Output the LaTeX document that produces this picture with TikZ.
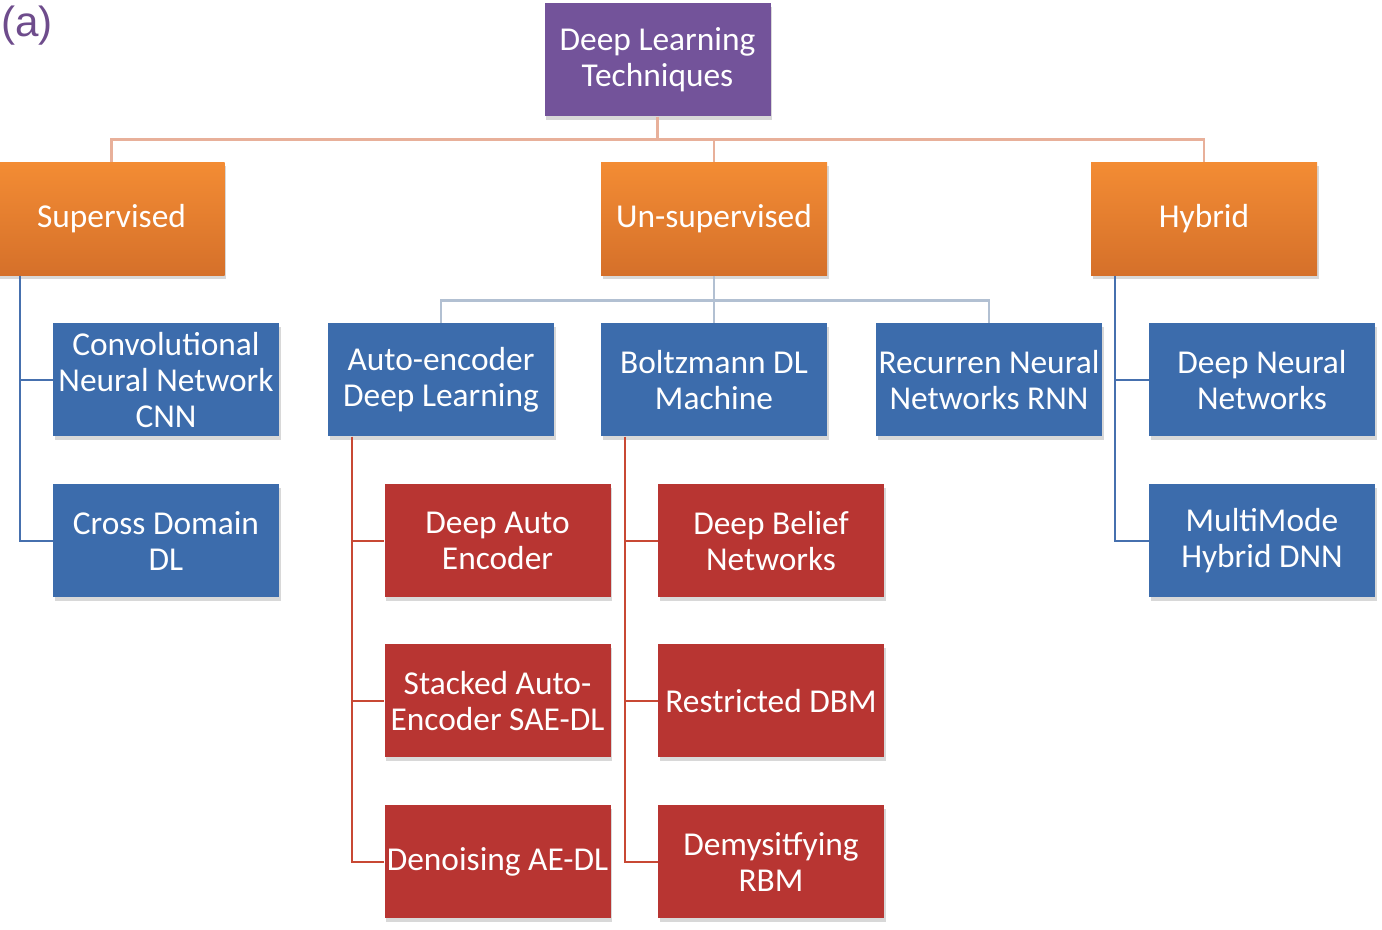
\documentclass[tikz,border=0pt]{standalone}
\usepackage{fontspec}
\setmainfont{Carlito}
\newfontfamily\tagfont{Liberation Sans}
\usetikzlibrary{positioning}
\usetikzlibrary{shadows}
\definecolor{rootpurple}{RGB}{115,83,154}
\definecolor{orangetop}{RGB}{243,140,52}
\definecolor{orangebot}{RGB}{213,112,42}
\definecolor{subblue}{RGB}{60,108,172}
\definecolor{leafred}{RGB}{184,53,50}
\definecolor{lineorange}{RGB}{232,176,154}
\definecolor{linegray}{RGB}{178,192,210}
\definecolor{lineblue}{RGB}{70,112,174}
\definecolor{linered}{RGB}{200,72,52}
\definecolor{tagpurple}{RGB}{110,76,140}
\tikzset{
    box/.style = {rectangle, minimum width=4.52cm, minimum height=2.26cm, inner sep=1pt, align=center, text=white,
      font=\fontsize{19}{20.5}\selectfont,
      drop shadow={shadow xshift=0.03cm, shadow yshift=-0.07cm, fill=black!30, opacity=0.5}},
    rootbox/.style = {box, fill=rootpurple},
    catbox/.style = {box, top color=orangetop, bottom color=orangebot},
    subbox/.style = {box, fill=subblue},
    leafbox/.style = {box, fill=leafred},
    edgeo/.style = {line width=1.6pt, draw=lineorange}, % root to categories
    edgeg/.style = {line width=1.6pt, draw=linegray},   % un-supervised bus
    edgeb/.style = {line width=1.1pt, draw=lineblue},
    edger/.style = {line width=1.1pt, draw=linered}
}
\begin{document}
\begin{tikzpicture}
  \useasboundingbox (0,0) rectangle (27.64,-18.6);
  \node[anchor=west, inner sep=0pt, text=tagpurple, font=\tagfont\fontsize{24}{28}\selectfont] (tag) at (0.02,-0.52) {(a)};

  \node[rootbox] (root) at (13.15,-1.2) {Deep Learning\\Techniques};

  \node[catbox] (sup)   at ( 2.23,-4.38) {Supervised};
  \node[catbox] (unsup) at (14.28,-4.38) {Un-supervised};
  \node[catbox] (hyb)   at (24.08,-4.38) {Hybrid};

  \node[subbox] (cnn)   at ( 3.32,-7.60) {Convolutional\\Neural Network\\CNN};
  \node[subbox] (cross) at ( 3.32,-10.82) {Cross Domain\\DL};
  \node[subbox] (ae)    at ( 8.82,-7.60) {Auto-encoder\\Deep Learning};
  \node[subbox] (bm)    at (14.28,-7.60) {Boltzmann DL\\Machine};
  \node[subbox] (rnn)   at (19.78,-7.60) {Recurren Neural\\Networks RNN};
  \node[subbox] (dnn)   at (25.24,-7.60) {Deep Neural\\Networks};
  \node[subbox] (mm)    at (25.24,-10.82) {MultiMode\\Hybrid DNN};

  \node[leafbox] (dae)  at ( 9.95,-10.82) {Deep Auto\\Encoder};
  \node[leafbox] (sae)  at ( 9.95,-14.02) {Stacked Auto-\\Encoder SAE-DL};
  \node[leafbox] (dnae) at ( 9.95,-17.24) {Denoising AE-DL};
  \node[leafbox] (dbn)  at (15.42,-10.82) {Deep Belief\\Networks};
  \node[leafbox] (rdbm) at (15.42,-14.02) {Restricted DBM};
  \node[leafbox] (drbm) at (15.42,-17.24) {Demysitfying\\RBM};

  \draw[edgeo] (root.south) -- ++(0,-0.46) -| (sup.north);
  \draw[edgeo] (root.south) -- ++(0,-0.46) -| (unsup.north);
  \draw[edgeo] (root.south) -- ++(0,-0.46) -| (hyb.north);

  \draw[edgeg] (unsup.south) -- ++(0,-0.5) -| (ae.north);
  \draw[edgeg] (unsup.south) -- ++(0,-0.5) -| (bm.north);
  \draw[edgeg] (unsup.south) -- ++(0,-0.5) -| (rnn.north);

  \draw[edgeb] ([xshift=0.44cm]sup.south west) |- (cnn.west);
  \draw[edgeb] ([xshift=0.44cm]sup.south west) |- (cross.west);
  \draw[edgeb] ([xshift=0.48cm]hyb.south west) |- (dnn.west);
  \draw[edgeb] ([xshift=0.48cm]hyb.south west) |- (mm.west);

  \draw[edger] ([xshift=0.48cm]ae.south west) |- (dae.west);
  \draw[edger] ([xshift=0.48cm]ae.south west) |- (sae.west);
  \draw[edger] ([xshift=0.48cm]ae.south west) |- (dnae.west);
  \draw[edger] ([xshift=0.48cm]bm.south west) |- (dbn.west);
  \draw[edger] ([xshift=0.48cm]bm.south west) |- (rdbm.west);
  \draw[edger] ([xshift=0.48cm]bm.south west) |- (drbm.west);
\end{tikzpicture}
\end{document}
